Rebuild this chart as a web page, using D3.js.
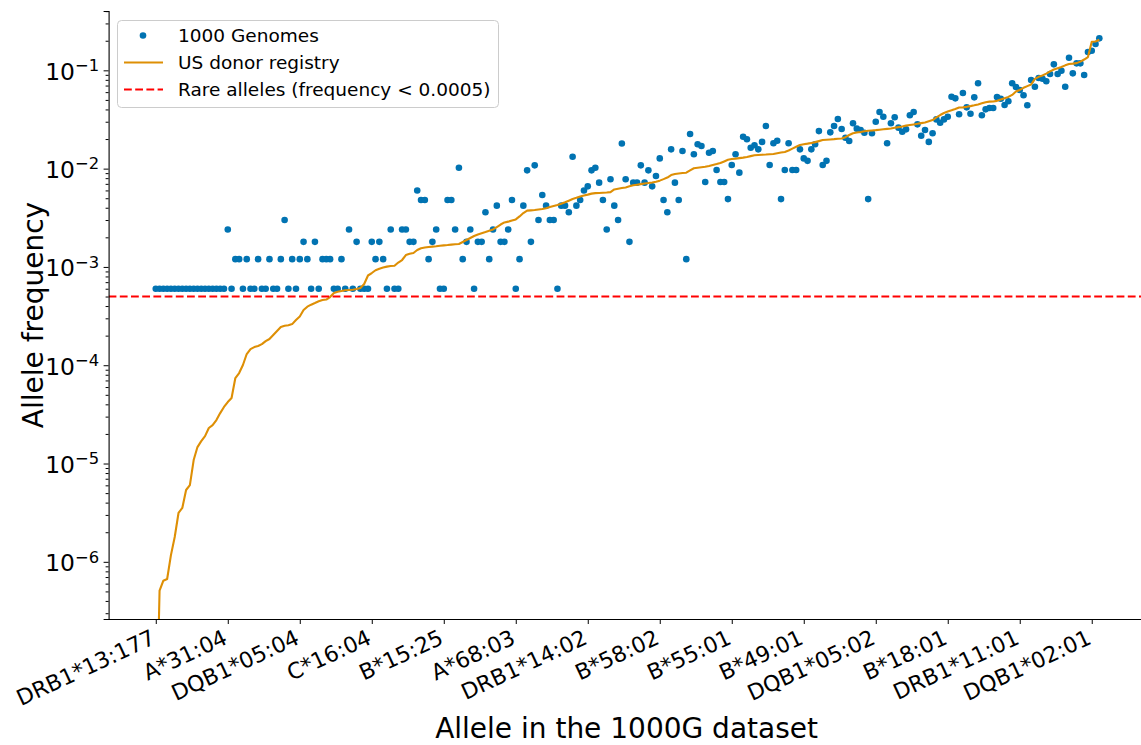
<!DOCTYPE html>
<html>
<head>
<meta charset="utf-8">
<script src="https://cdn.jsdelivr.net/npm/d3@7"></script>
<style>
  html, body { margin: 0; padding: 0; background: #fff; }
  svg { display: block; font-family: "DejaVu Sans", sans-serif; }
  svg text { font-family: "DejaVu Sans", sans-serif; }
</style>
</head>
<body>
<svg id="chart" width="1141" height="745"></svg>
<script>
// Tick labels on the x axis (one every 19 alleles)
const tickAlleles = ["DRB1*13:177", "A*31:04", "DQB1*05:04", "C*16:04", "B*15:25", "A*68:03",
  "DRB1*14:02", "B*58:02", "B*55:01", "B*49:01", "DQB1*05:02", "B*18:01", "DRB1*11:01", "DQB1*02:01"];
const tickIndex = [0, 19, 38, 57, 76, 95, 114, 133, 152, 171, 190, 209, 228, 247];

// Allele frequency in the 1000 Genomes samples, ordered by registry frequency
const genomesFreq = [
  0.0006, 0.0006, 0.0006, 0.0006, 0.0006, 0.0006, 0.0006, 0.0006, 0.0006, 0.0006,
  0.0006, 0.0006, 0.0006, 0.0006, 0.0006, 0.0006, 0.0006, 0.0006, 0.0006, 0.0024,
  0.0006, 0.0012, 0.0012, 0.0006, 0.0012, 0.0006, 0.0006, 0.0012, 0.0006, 0.0006,
  0.0012, 0.0006, 0.0006, 0.0012, 0.003, 0.0006, 0.0012, 0.0006, 0.0012, 0.0018,
  0.0012, 0.0006, 0.0018, 0.0006, 0.0012, 0.0012, 0.0012, 0.0006, 0.0006, 0.0012,
  0.0006, 0.0024, 0.0006, 0.0018, 0.0006, 0.0006, 0.0006, 0.0018, 0.0012, 0.0018,
  0.0012, 0.0006, 0.0024, 0.0006, 0.0006, 0.0024, 0.0024, 0.0018, 0.0018, 0.006,
  0.0048, 0.0048, 0.0012, 0.0018, 0.0024, 0.0006, 0.0006, 0.0048, 0.0048, 0.0024,
  0.0102, 0.0012, 0.0018, 0.0024, 0.0006, 0.0018, 0.0018, 0.0036, 0.0012, 0.0024,
  0.0042, 0.0018, 0.0018, 0.0024, 0.0048, 0.0006, 0.0012, 0.0042, 0.0096, 0.0018,
  0.0108, 0.003, 0.0054, 0.0042, 0.003, 0.003, 0.0006, 0.0042, 0.0042, 0.0036,
  0.0132, 0.0042, 0.0048, 0.006, 0.0066, 0.0096, 0.0102, 0.0072, 0.0048, 0.0024,
  0.0078, 0.0042, 0.003, 0.018, 0.0078, 0.0018, 0.0072, 0.0072, 0.0108, 0.0072,
  0.0096, 0.0066, 0.0084, 0.0127, 0.0048, 0.0036, 0.0157, 0.0072, 0.0048, 0.0151,
  0.0012, 0.0225, 0.014, 0.0177, 0.017, 0.0073, 0.0145, 0.0151, 0.0097, 0.0073,
  0.0073, 0.0049, 0.0109, 0.014, 0.0091, 0.0211, 0.0199, 0.0163, 0.0173, 0.0157,
  0.0187, 0.0271, 0.0109, 0.0181, 0.0192, 0.0049, 0.0097, 0.0181, 0.0097, 0.0097,
  0.0157, 0.0127, 0.012, 0.0157, 0.0177, 0.0241, 0.0109, 0.012, 0.0234, 0.0271,
  0.032, 0.0253, 0.0206, 0.0191, 0.0289, 0.0255, 0.0247, 0.0232, 0.0049, 0.0229,
  0.03, 0.0377, 0.0337, 0.0181, 0.0289, 0.0333, 0.0261, 0.0237, 0.0251, 0.0349,
  0.0377, 0.0282, 0.0216, 0.0247, 0.0187, 0.0229, 0.0317, 0.0293, 0.0317, 0.0337,
  0.0539, 0.0519, 0.0357, 0.0587, 0.042, 0.0362, 0.0531, 0.0738, 0.0349, 0.0401,
  0.0414, 0.0414, 0.0535, 0.0514, 0.0444, 0.0484, 0.0738, 0.0676, 0.063, 0.0557,
  0.0441, 0.0797, 0.0681, 0.0835, 0.0821, 0.0773, 0.0917, 0.1151, 0.0917, 0.0991,
  0.0681, 0.1343, 0.0932, 0.1178, 0.1178, 0.0896, 0.1535, 0.1582, 0.1851, 0.2116
];

// Allele frequency in the US donor registry (sorted ascending)
const registryFreq = [
  1e-8, 5.08e-7, 6.42e-7, 6.69e-7, 1.17e-6, 1.79e-6, 3.14e-6, 3.53e-6, 5.38e-6, 6.04e-6,
  1.085e-5, 1.47e-5, 1.69e-5, 1.9e-5, 2.3e-5, 2.46e-5, 2.77e-5, 3.26e-5, 3.76e-5, 4.22e-5,
  4.64e-5, 7.41e-5, 8.33e-5, 1.005e-4, 1.3e-4, 1.46e-4, 1.53e-4, 1.57e-4, 1.64e-4, 1.76e-4,
  1.85e-4, 2.03e-4, 2.23e-4, 2.45e-4, 2.52e-4, 2.55e-4, 2.62e-4, 2.88e-4, 3.13e-4, 3.64e-4,
  3.94e-4, 4.13e-4, 4.29e-4, 4.47e-4, 4.61e-4, 4.66e-4, 4.94e-4, 5.43e-4, 5.59e-4, 5.68e-4,
  5.79e-4, 5.82e-4, 5.86e-4, 5.96e-4, 6.1e-4, 6.7e-4, 8.18e-4, 8.67e-4, 9.25e-4, 9.59e-4,
  9.86e-4, 1.007e-3, 1.021e-3, 1.028e-3, 1.109e-3, 1.176e-3, 1.321e-3, 1.359e-3, 1.385e-3, 1.485e-3,
  1.549e-3, 1.575e-3, 1.594e-3, 1.608e-3, 1.623e-3, 1.643e-3, 1.658e-3, 1.67e-3, 1.686e-3, 1.698e-3,
  1.71e-3, 1.792e-3, 1.877e-3, 1.968e-3, 2.062e-3, 2.136e-3, 2.202e-3, 2.265e-3, 2.335e-3, 2.407e-3,
  2.546e-3, 2.7e-3, 2.836e-3, 2.889e-3, 2.965e-3, 3.042e-3, 3.264e-3, 3.535e-3, 3.739e-3, 3.765e-3,
  3.792e-3, 3.837e-3, 3.882e-3, 3.955e-3, 4.068e-3, 4.164e-3, 4.263e-3, 4.395e-3, 4.542e-3, 4.716e-3,
  4.907e-3, 5.046e-3, 5.203e-3, 5.326e-3, 5.439e-3, 5.568e-3, 5.633e-3, 5.66e-3, 5.686e-3, 5.713e-3,
  5.768e-3, 6.143e-3, 6.244e-3, 6.347e-3, 6.437e-3, 6.605e-3, 6.761e-3, 6.857e-3, 6.954e-3, 7.053e-3,
  7.136e-3, 7.237e-3, 7.356e-3, 7.548e-3, 7.817e-3, 8.116e-3, 8.605e-3, 8.809e-3, 8.934e-3, 9.018e-3,
  9.082e-3, 9.61e-3, 1.009e-2, 1.019e-2, 1.031e-2, 1.043e-2, 1.065e-2, 1.091e-2, 1.114e-2, 1.14e-2,
  1.184e-2, 1.229e-2, 1.252e-2, 1.264e-2, 1.279e-2, 1.294e-2, 1.315e-2, 1.34e-2, 1.366e-2, 1.375e-2,
  1.385e-2, 1.391e-2, 1.401e-2, 1.411e-2, 1.434e-2, 1.458e-2, 1.479e-2, 1.528e-2, 1.598e-2, 1.67e-2,
  1.742e-2, 1.771e-2, 1.796e-2, 1.826e-2, 1.86e-2, 1.905e-2, 1.954e-2, 1.968e-2, 1.982e-2, 1.996e-2,
  2.015e-2, 2.029e-2, 2.091e-2, 2.197e-2, 2.291e-2, 2.329e-2, 2.362e-2, 2.402e-2, 2.424e-2, 2.447e-2,
  2.464e-2, 2.487e-2, 2.511e-2, 2.535e-2, 2.558e-2, 2.601e-2, 2.644e-2, 2.687e-2, 2.738e-2, 2.777e-2,
  2.816e-2, 2.856e-2, 2.904e-2, 2.944e-2, 3.028e-2, 3.121e-2, 3.325e-2, 3.509e-2, 3.678e-2, 3.809e-2,
  3.917e-2, 4.039e-2, 4.183e-2, 4.202e-2, 4.252e-2, 4.322e-2, 4.404e-2, 4.498e-2, 4.615e-2, 4.735e-2,
  4.802e-2, 4.825e-2, 4.893e-2, 5.045e-2, 5.213e-2, 5.361e-2, 5.619e-2, 6.086e-2, 6.318e-2, 6.637e-2,
  6.907e-2, 7.171e-2, 8.194e-2, 8.588e-2, 8.874e-2, 9.256e-2, 9.768e-2, 0.1019, 0.1048, 0.108,
  0.1124, 0.1159, 0.117, 0.1184, 0.1226, 0.1288, 0.1366, 0.1954, 0.1963, 0.2043
];

const rareThreshold = 0.0005;
const yMajorTicks = [1e-6, 1e-5, 1e-4, 1e-3, 1e-2, 1e-1];

const COLORS = { genomes: "#0173b2", registry: "#de8f05", rare: "#ff0000" };
const FONT = "DejaVu Sans";

const svg = d3.select("#chart");
const plot = { left: 108.6, right: 1146.5, top: 11, bottom: 619 };

const n = genomesFreq.length;
const pad = (n - 1) * 0.05;
const x = d3.scaleLinear().domain([-pad, n - 1 + pad]).range([plot.left, plot.right]);
const y = d3.scaleLog().domain([2.62e-7, 0.4014]).range([plot.bottom, plot.top]);

svg.append("defs").append("clipPath").attr("id", "plotArea")
  .append("rect")
  .attr("x", plot.left).attr("y", plot.top)
  .attr("width", plot.right - plot.left).attr("height", plot.bottom - plot.top);

const marks = svg.append("g").attr("clip-path", "url(#plotArea)");

// 1000 Genomes points
marks.append("g").selectAll("circle")
  .data(genomesFreq)
  .join("circle")
  .attr("cx", (d, i) => x(i))
  .attr("cy", d => y(d))
  .attr("r", 3.3)
  .attr("fill", COLORS.genomes);

// US donor registry line
marks.append("path")
  .datum(registryFreq)
  .attr("fill", "none")
  .attr("stroke", COLORS.registry)
  .attr("stroke-width", 2.1)
  .attr("stroke-linejoin", "round")
  .attr("d", d3.line().x((d, i) => x(i)).y(d => y(d)));

// Rare-allele threshold
marks.append("line")
  .attr("x1", plot.left).attr("x2", plot.right)
  .attr("y1", y(rareThreshold)).attr("y2", y(rareThreshold))
  .attr("stroke", COLORS.rare)
  .attr("stroke-width", 2.1)
  .attr("stroke-dasharray", "7.8,3.4");

// Y axis: log decades with minor ticks
const minorTicks = [];
for (let e = -7; e <= 0; e++) {
  for (let m = 2; m <= 9; m++) {
    const v = m * Math.pow(10, e);
    if (v >= y.domain()[0] && v <= y.domain()[1]) minorTicks.push(v);
  }
}
const yAxisG = svg.append("g").attr("transform", `translate(${plot.left},0)`);
yAxisG.call(d3.axisLeft(y).tickValues(minorTicks).tickSize(3).tickFormat(""));
yAxisG.call(g => g.select(".domain").remove());
const yMajorG = svg.append("g").attr("transform", `translate(${plot.left},0)`)
  .call(d3.axisLeft(y).tickValues(yMajorTicks).tickSize(5).tickFormat(""));
yMajorG.attr("font-family", FONT);
yMajorG.selectAll(".domain").attr("stroke", "#000").attr("stroke-width", 1.1);
svg.selectAll(".tick line").attr("stroke", "#000").attr("stroke-width", 1);

yMajorG.selectAll(".tick").each(function (d) {
  const t = d3.select(this).append("text")
    .attr("x", -9.5).attr("y", 9)
    .attr("text-anchor", "end")
    .attr("fill", "#000")
    .style("font-family", FONT)
    .style("font-size", "23.4px");
  t.append("tspan").text("10");
  t.append("tspan").attr("dy", -8.8).style("font-size", "16.4px")
    .text("\u2212" + Math.round(-Math.log10(d)));
});

// X axis
const xAxisG = svg.append("g").attr("transform", `translate(0,${plot.bottom})`)
  .call(d3.axisBottom(x).tickValues(tickIndex).tickSize(5)
    .tickFormat((d, i) => tickAlleles[i]));
xAxisG.attr("font-family", FONT);
xAxisG.select(".domain").attr("stroke", "#000").attr("stroke-width", 1.1)
  .attr("d", `M${plot.left},0.5H${plot.right}`);
xAxisG.selectAll(".tick line").attr("stroke", "#000").attr("stroke-width", 1);
xAxisG.selectAll(".tick text")
  .attr("x", 0).attr("y", 0).attr("dy", 0)
  .attr("text-anchor", "end")
  .attr("fill", "#000")
  .attr("transform", "translate(0.5,24) rotate(-25)")
  .style("font-size", "22px")
  .style("font-family", FONT);

// Axis titles
svg.append("text")
  .attr("x", (plot.left + plot.right) / 2 - 1).attr("y", 738)
  .attr("text-anchor", "middle")
  .style("font-size", "28px")
  .text("Allele in the 1000G dataset");

svg.append("text")
  .attr("transform", `translate(42.5,${(plot.top + plot.bottom) / 2}) rotate(-90)`)
  .attr("text-anchor", "middle")
  .style("font-size", "28px")
  .text("Allele frequency");

// Legend
const legend = svg.append("g");
legend.append("rect")
  .attr("x", 117.5).attr("y", 20.5).attr("width", 381).attr("height", 87)
  .attr("rx", 4)
  .attr("fill", "#fff").attr("fill-opacity", 0.8)
  .attr("stroke", "#cccccc").attr("stroke-width", 1);

const legendItems = [
  { label: "1000 Genomes", type: "dot", color: COLORS.genomes },
  { label: "US donor registry", type: "line", color: COLORS.registry },
  { label: "Rare alleles (frequency < 0.0005)", type: "dash", color: COLORS.rare }
];
legendItems.forEach((item, i) => {
  const cy = 35.5 + i * 27;
  if (item.type === "dot") {
    legend.append("circle").attr("cx", 143).attr("cy", cy).attr("r", 3.3).attr("fill", item.color);
  } else {
    legend.append("line")
      .attr("x1", 124).attr("x2", 163).attr("y1", cy).attr("y2", cy)
      .attr("stroke", item.color).attr("stroke-width", 2.1)
      .attr("stroke-dasharray", item.type === "dash" ? "7.8,3.4" : null);
  }
  legend.append("text")
    .attr("x", 178).attr("y", cy + 6.7)
    .style("font-size", "18.5px")
    .text(item.label);
});
</script>
</body>
</html>
